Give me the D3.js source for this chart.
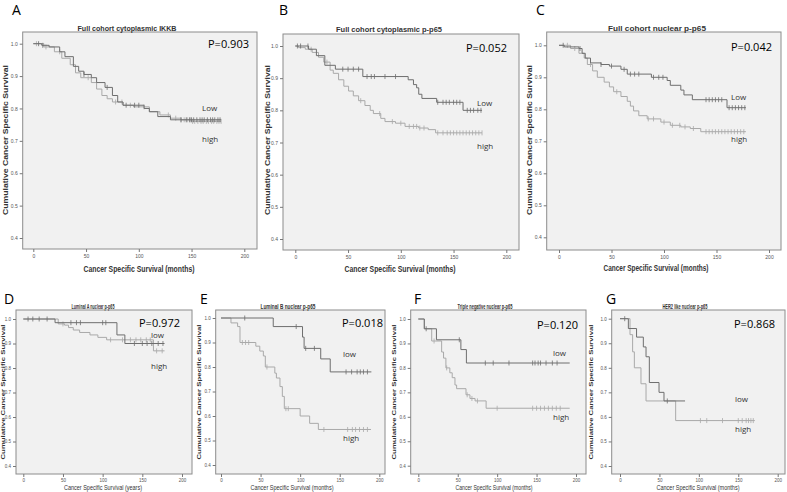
<!DOCTYPE html>
<html>
<head>
<meta charset="utf-8">
<script src="https://cdn.jsdelivr.net/npm/d3@7"></script>
<style>
  body { margin: 0; background: #fff; }
  svg text { font-family: "Liberation Sans", Arial, sans-serif; }
</style>
</head>
<body>
<svg id="fig" width="787" height="492"></svg>
<script>
// ---- data ----
var panelIds = ["A", "B", "C", "D", "E", "F", "G"];
var panelTitles = ["Full cohort cytoplasmic IKKB", "Full cohort cytoplasmic p-p65", "Full cohort nuclear p-p65",
  "Luminal A nuclear p-p65", "Luminal B nuclear p-p65", "Triple negative nuclear p-p65", "HER2 like nuclear p-p65"];
var pValues = ["P=0.903", "P=0.052", "P=0.042", "P=0.972", "P=0.018", "P=0.120", "P=0.868"];
var xTitles = ["Cancer Specific Survival (months)", "Cancer Specific Survival (months)", "Cancer Specific Survival (months)",
  "Cancer Specific Survival (years)", "Cancer Specific Survival (months)", "Cancer Specific Survival (months)",
  "Cancer Specific Survival (months)"];
var yTitle = "Cumulative Cancer Specific Survival";
var lowNames = ["Low", "Low", "Low", "low", "low", "low", "low"];
var highNames = ["high", "high", "high", "high", "high", "high", "high"];
var yTickVals = [0.4, 0.5, 0.6, 0.7, 0.8, 0.9, 1.0];
var xTickVals = [0, 50, 100, 150, 200];

// step points [time, survival]
var lowA = [[0,1],[8,0.995],[15,0.99],[25,0.975],[30,0.96],[38,0.93],[43,0.915],[48,0.905],[55,0.895],[60,0.88],[68,0.865],[75,0.84],[80,0.82],[85,0.81],[105,0.8],[110,0.79],[118,0.775],[130,0.765],[178,0.765]];
var highA = [[0,1],[10,0.99],[20,0.975],[27,0.955],[35,0.935],[40,0.91],[45,0.895],[55,0.88],[60,0.86],[65,0.84],[70,0.83],[75,0.82],[85,0.81],[95,0.805],[110,0.79],[120,0.78],[130,0.77],[140,0.765],[150,0.76],[178,0.76]];
var lowCensA = [5,9,48,70,88,96,100,140,145,148,150,152,155,158,160,162,165,168,170,172,175,177];
var highCensA = [3,12,25,52,78,84,92,105,128,135,140,143,146,149,151,153,156,159,161,164,166,169,171,174,176,178];

var lowB = [[0,1],[12.6,0.99],[20,0.97],[28,0.94],[38,0.928],[64,0.905],[107,0.895],[112,0.88],[115,0.87],[117,0.85],[120,0.837],[134,0.825],[159,0.8],[177,0.8]];
var highB = [[0,1],[3,0.995],[9.5,0.99],[16,0.98],[22,0.965],[27,0.95],[33,0.925],[36,0.915],[41,0.895],[46,0.875],[50.5,0.86],[55,0.845],[60,0.83],[66,0.815],[71,0.8],[74,0.79],[81,0.775],[85,0.765],[95,0.76],[104,0.75],[117,0.745],[126,0.74],[133,0.73],[177,0.73]];
var lowCensB = [2,5,12,45,50,55,60,68,72,75,85,95,135,140,143,146,150,153,156,163,166,169,173,176];
var highCensB = [15,30,62,80,92,100,108,112,115,118,122,135,140,144,147,150,153,156,159,162,165,168,171,174,177];

var lowC = [[0,1],[5,0.995],[19,0.99],[22,0.975],[25,0.96],[30,0.945],[40,0.94],[48,0.935],[59,0.925],[65,0.91],[88,0.9],[103,0.89],[106,0.875],[116,0.86],[119,0.845],[127,0.83],[160,0.805],[178,0.805]];
var highC = [[0,1],[11,0.99],[19,0.975],[24,0.96],[27,0.94],[32,0.92],[36.5,0.9],[43,0.885],[48,0.87],[52,0.855],[59,0.84],[65,0.825],[68,0.81],[71,0.795],[76,0.78],[84,0.77],[97,0.76],[106,0.75],[116,0.745],[125,0.74],[135,0.73],[178,0.73]];
var lowCensC = [4,20,40,50,62,68,72,76,90,95,99,140,143,146,149,152,155,162,165,168,171,174,177];
var highCensC = [8,15,30,55,85,90,100,108,115,120,128,140,143,146,149,152,155,158,161,164,167,170,173,176];

var lowD = [[0,1],[40,0.985],[118,0.935],[128,0.9],[178,0.9]];
var highD = [[0,1],[44,0.98],[52,0.975],[57,0.965],[63,0.955],[71,0.945],[84,0.935],[94,0.925],[105,0.915],[164,0.87],[178,0.87]];
var lowCensD = [6,12,20,30,60,67,72,100,104,140,150,156,162,170,176];
var highCensD = [50,110,125,135,142,148,155,160,168,175];

var lowE = [[0,1],[66,0.965],[103,0.922],[105,0.876],[126,0.833],[138,0.78],[190,0.78]];
var highE = [[0,1],[12.6,0.98],[21,0.965],[24,0.9],[44,0.885],[49,0.865],[53.5,0.845],[56,0.8],[68,0.775],[70,0.755],[74.5,0.72],[77.5,0.68],[80,0.63],[100,0.6],[112,0.57],[123,0.545],[189.5,0.545]];
var lowCensE = [30,95,107,118,158,165,172,176,180,185];
var highCensE = [27,31,35,58,82,85,130,160,166,170,175,180,185];

var lowF = [[0,1],[7.6,0.96],[23,0.915],[54,0.875],[61,0.82],[192,0.82]];
var highF = [[0,1],[7.6,0.96],[17,0.91],[29.6,0.865],[32,0.84],[35,0.8],[40,0.78],[43,0.76],[46.5,0.73],[48.6,0.715],[60.5,0.69],[65.5,0.675],[72,0.665],[86,0.635],[192,0.635]];
var lowCensF = [10,52,85,95,115,145,148,152,155,162,170,176];
var highCensF = [20,36,62,68,75,100,145,150,155,160,165,170,175,180];

var lowG = [[0,1],[10.6,0.96],[21,0.925],[29.6,0.885],[33,0.845],[37.2,0.74],[49.5,0.7],[55.8,0.665],[82.5,0.665]];
var highG = [[0,1],[12.7,0.935],[16,0.865],[18.2,0.8],[26.6,0.735],[33,0.665],[70.6,0.585],[171,0.585]];
var lowCensG = [6,60];
var highCensG = [102,110,130,150,155,160,163,166,169];

var lowCurves = [lowA, lowB, lowC, lowD, lowE, lowF, lowG];
var highCurves = [highA, highB, highC, highD, highE, highF, highG];
var lowCens = [lowCensA, lowCensB, lowCensC, lowCensD, lowCensE, lowCensF, lowCensG];
var highCens = [highCensA, highCensB, highCensC, highCensD, highCensE, highCensF, highCensG];

// ---- layout (pixels); tw/xw/yw = text widths seen in the figure ----
var layout = [
  {box:[22.7,32,257,249], x0:33.3, x200:244.3, y10:43.7, y04:238, big:true, tw:99, xw:111, yw:150,
   letter:[12,15], title:[127,31], p:[208,48], low:[202,111], high:[202,142], xt:[139,272], yt:[5,140]},
  {box:[283,34,519,250], x0:295.3, x200:506.3, y10:46, y04:239, big:true, tw:106, xw:111, yw:150,
   letter:[279,15], title:[389,32], p:[466,52], low:[477,106], high:[477,149], xt:[400,272], yt:[267,140]},
  {box:[546.7,32,781,250], x0:559, x200:769, y10:45.3, y04:237.3, big:true, tw:98, xw:105, yw:150,
   letter:[536,15], title:[657,31], p:[731,51], low:[731,100], high:[731,142], xt:[656,271], yt:[529,140]},
  {box:[16,310,192,474], x0:23.3, x200:182, y10:319, y04:466, big:false, tw:43, xw:78, yw:135,
   letter:[4,304], title:[93,309], p:[139,327], low:[151,338], high:[151,369], xt:[103,490], yt:[3,392]},
  {box:[215.7,310,385,474], x0:221, x200:379.3, y10:318, y04:465, big:false, tw:55, xw:83, yw:135,
   letter:[200,304], title:[288,309], p:[342,327], low:[343,357], high:[343,441], xt:[292,490], yt:[199,392]},
  {box:[410.7,310,586,474], x0:418.3, x200:576, y10:319, y04:465.7, big:false, tw:55, xw:77, yw:135,
   letter:[414,304], title:[485,309], p:[537,329], low:[553,356], high:[553,420], xt:[494,490], yt:[394,392]},
  {box:[611.7,310,785,474], x0:620, x200:777.7, y10:318.7, y04:466, big:false, tw:45, xw:83, yw:135,
   letter:[606,304], title:[685,309], p:[734,328], low:[735,402], high:[735,432], xt:[698,490], yt:[591,392]}
];

var lowColor = "#6e6e6e", highColor = "#a9a9a9";
var svg = d3.select("#fig");

function survAt(curve, t) {
  var s = curve[0][1];
  curve.forEach(function(d) { if (d[0] <= t) s = d[1]; });
  return s;
}

layout.forEach(function(L, i) {
  var x = d3.scaleLinear().domain([0, 200]).range([L.x0, L.x200]);
  var y = d3.scaleLinear().domain([0.4, 1.0]).range([L.y04, L.y10]);
  var g = svg.append("g").attr("class", "panel");
  var tickFont = L.big ? 5 : 4.5;

  g.append("rect")
    .attr("x", L.box[0]).attr("y", L.box[1])
    .attr("width", L.box[2] - L.box[0]).attr("height", L.box[3] - L.box[1])
    .attr("fill", "#f1f1f1").attr("stroke", "#8c8c8c").attr("stroke-width", 1);

  var ya = g.append("g")
    .attr("transform", "translate(" + L.box[0] + ",0)")
    .call(d3.axisLeft(y).tickValues(yTickVals).tickSize(3).tickPadding(2).tickFormat(d3.format(".1f")));
  var xa = g.append("g")
    .attr("transform", "translate(0," + L.box[3] + ")")
    .call(d3.axisBottom(x).tickValues(xTickVals).tickSize(3).tickPadding(2));
  [ya, xa].forEach(function(a) {
    a.select(".domain").remove();
    a.selectAll("line").attr("stroke", "#777");
    a.selectAll("text").attr("font-size", tickFont).attr("fill", "#555");
  });

  var line = d3.line()
    .curve(d3.curveStepAfter)
    .x(function(d) { return x(d[0]); })
    .y(function(d) { return y(d[1]); });

  [[highCurves[i], highCens[i], highColor], [lowCurves[i], lowCens[i], lowColor]].forEach(function(s) {
    g.append("path").datum(s[0])
      .attr("d", line).attr("fill", "none")
      .attr("stroke", s[2]).attr("stroke-width", 1);
    g.selectAll(null).data(s[1]).enter().append("line")
      .attr("x1", function(t) { return x(t); }).attr("x2", function(t) { return x(t); })
      .attr("y1", function(t) { return y(survAt(s[0], t)) - 2.5; })
      .attr("y2", function(t) { return y(survAt(s[0], t)) + 2.5; })
      .attr("stroke", s[2]).attr("stroke-width", 0.8);
  });

  // texts
  svg.append("text").attr("x", L.letter[0]).attr("y", L.letter[1])
    .attr("font-size", 14).style("font-family", "'Open Sans', sans-serif").text(panelIds[i]);
  svg.append("text").attr("x", L.title[0]).attr("y", L.title[1]).attr("text-anchor", "middle")
    .attr("font-size", L.big ? 8 : 7).attr("font-weight", "bold").attr("fill", "#333")
    .attr("textLength", L.tw).attr("lengthAdjust", "spacingAndGlyphs").text(panelTitles[i]);
  svg.append("text").attr("x", L.p[0]).attr("y", L.p[1])
    .attr("font-size", 11).style("font-family", "'Open Sans', sans-serif").text(pValues[i]);
  svg.append("text").attr("x", L.low[0]).attr("y", L.low[1])
    .attr("font-size", 8).attr("fill", "#333").style("font-family", "'Open Sans', sans-serif").text(lowNames[i]);
  svg.append("text").attr("x", L.high[0]).attr("y", L.high[1])
    .attr("font-size", 8).attr("fill", "#333").style("font-family", "'Open Sans', sans-serif").text(highNames[i]);
  svg.append("text").attr("x", L.xt[0]).attr("y", L.xt[1]).attr("text-anchor", "middle")
    .attr("font-size", L.big ? 8.5 : 7).attr("font-weight", L.big ? "bold" : "normal").attr("fill", "#333")
    .attr("textLength", L.xw).attr("lengthAdjust", "spacingAndGlyphs").text(xTitles[i]);
  svg.append("text").attr("text-anchor", "middle")
    .attr("transform", "translate(" + L.yt[0] + "," + L.yt[1] + ") rotate(-90)")
    .attr("dy", "0.35em")
    .attr("font-size", L.big ? 8 : 6).attr("font-weight", "bold").attr("fill", "#333")
    .attr("textLength", L.yw).attr("lengthAdjust", "spacingAndGlyphs").text(yTitle);
});
</script>
</body>
</html>
